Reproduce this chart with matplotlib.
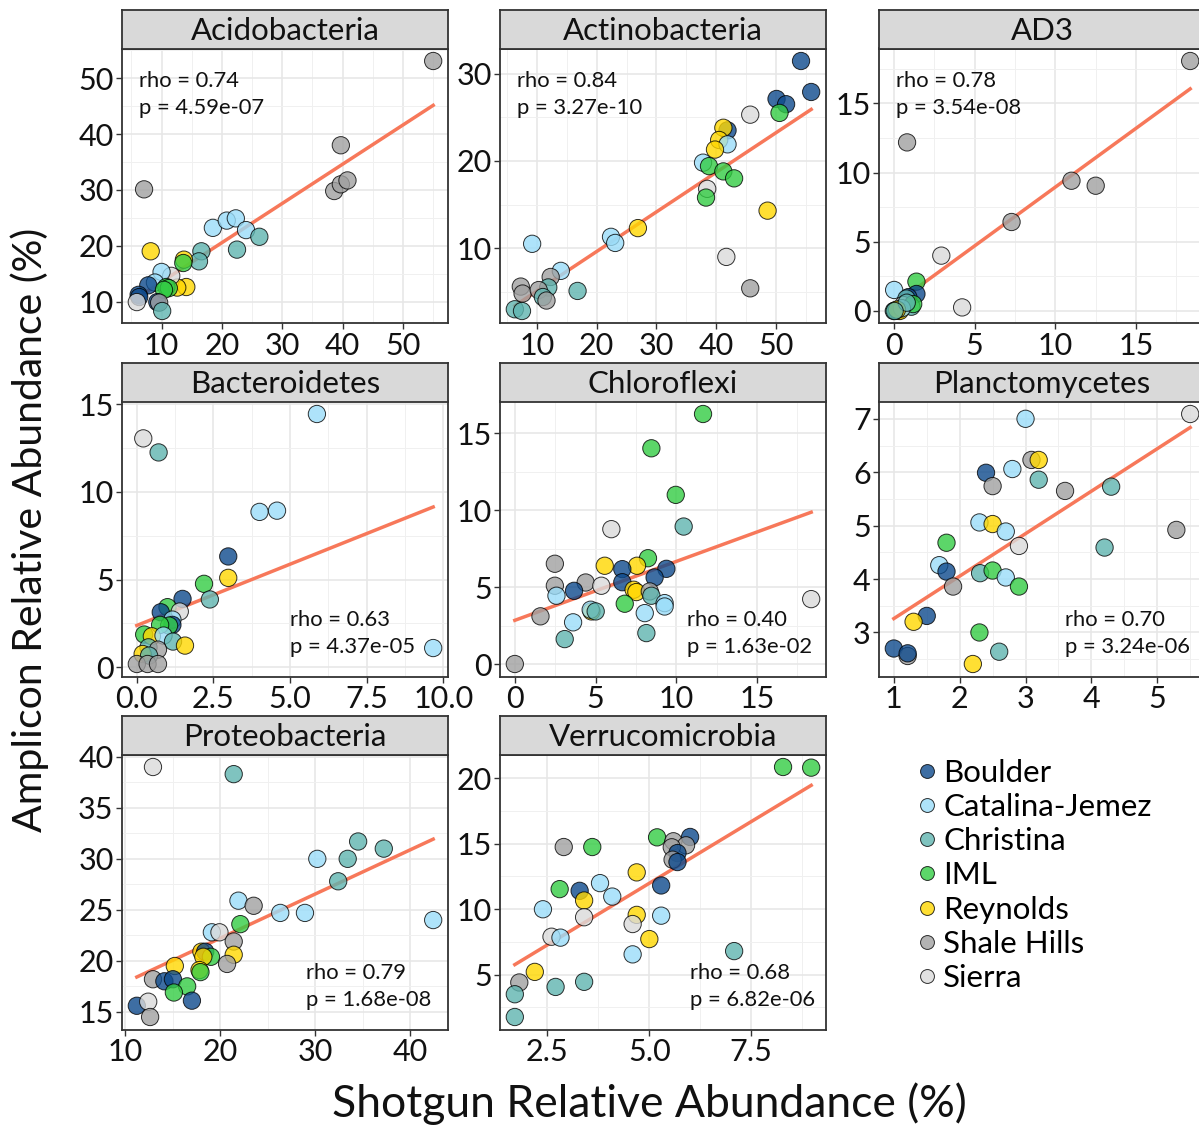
import matplotlib
matplotlib.use("Agg")
import matplotlib.pyplot as plt
from matplotlib.lines import Line2D
from matplotlib.ticker import AutoMinorLocator, FixedLocator
import numpy as np

plt.rcParams["font.family"] = ["Lato", "DejaVu Sans"]

# ---- sites ----
site_names = ["Boulder", "Catalina-Jemez", "Christina", "IML", "Reynolds", "Shale Hills", "Sierra"]
site_codes = ["B", "CJ", "C", "I", "R", "SH", "S"]
site_colors = ["#0E4A8C", "#9ADDF9", "#5FB5B0", "#33CC44", "#FFD700", "#A0A0A0", "#DADADA"]

# ---- Acidobacteria ----
acido_x = [55.0, 39.7, 38.6, 39.7, 40.8, 7.1, 18.5, 20.8, 22.3, 24.0, 26.2, 22.5, 16.6, 16.2, 8.2, 13.7,
           13.6, 14.1, 12.6, 11.6, 10.0, 8.9, 7.8, 10.8, 11.2, 10.4, 6.2, 6.3, 5.9, 9.3, 9.6, 10.1]
acido_y = [53.1, 38.0, 29.8, 31.0, 31.7, 30.1, 23.2, 24.5, 24.9, 22.8, 21.6, 19.3, 19.0, 17.2, 19.0, 17.5,
           16.9, 12.6, 12.5, 14.6, 15.3, 13.4, 12.9, 12.6, 12.4, 12.1, 11.2, 10.8, 9.9, 9.9, 9.8, 8.3]
acido_site = ["SH", "SH", "SH", "SH", "SH", "SH", "CJ", "CJ", "CJ", "CJ", "C", "C", "C", "C", "R", "R",
              "I", "R", "R", "S", "CJ", "CJ", "B", "I", "I", "I", "B", "B", "S", "B", "SH", "C"]
acido_fit = [6.49, 0.703]
acido_stats = ["0.74", "4.59e-07"]
acido_xticks = [10, 20, 30, 40, 50]
acido_yticks = [10, 20, 30, 40, 50]

# ---- Actinobacteria ----
actino_x = [54.2, 55.9, 50.1, 51.7, 50.6, 45.7, 41.9, 41.2, 40.5, 41.9, 39.8, 37.8, 38.8, 41.2, 43.0, 38.5,
            38.3, 48.6, 26.9, 22.4, 23.1, 9.2, 41.7, 45.7, 14.0, 12.3, 11.9, 16.8, 7.3, 7.6, 10.3, 11.0,
            11.6, 6.3, 7.5]
actino_y = [31.45, 27.9, 27.1, 26.5, 25.5, 25.3, 23.5, 23.8, 22.4, 21.9, 21.3, 19.8, 19.4, 18.8, 18.0, 16.8,
            15.8, 14.3, 12.3, 11.3, 10.6, 10.5, 9.0, 5.4, 7.4, 6.7, 5.5, 5.1, 5.6, 4.8, 5.2, 4.4,
            4.0, 3.0, 2.8]
actino_site = ["B", "B", "B", "B", "I", "S", "B", "R", "R", "CJ", "R", "CJ", "I", "I", "I", "S",
               "I", "R", "R", "CJ", "CJ", "CJ", "S", "SH", "CJ", "SH", "C", "C", "SH", "SH", "SH", "C",
               "SH", "C", "C"]
actino_fit = [0.55, 0.4535]
actino_stats = ["0.84", "3.27e-10"]
actino_xticks = [10, 20, 30, 40, 50]
actino_yticks = [10, 20, 30]

# ---- AD3 ----
ad3_x = [18.35, 0.82, 11.0, 12.5, 7.29, 2.94, 4.23, 1.4, 0.02, 1.4, 0.9, 0.78, 0.58, 1.09, 1.2,
         0.0, 0.27, 0.37, 0.1, 0.5, 0.2, 0.8, 0.05]
ad3_y = [18.06, 12.18, 9.41, 9.05, 6.43, 4.0, 0.26, 2.12, 1.52, 1.23, 1.0, 0.9, 0.43, 0.31, 0.5,
         0.0, 0.02, 0.0, 0.05, 0.2, 0.1, 0.6, 0.0]
ad3_site = ["SH", "SH", "SH", "SH", "SH", "S", "S", "I", "CJ", "B", "B", "C", "S", "C", "I",
            "C", "B", "R", "I", "CJ", "R", "C", "C"]
ad3_fit = [0.45, 0.85]
ad3_stats = ["0.78", "3.54e-08"]
ad3_xticks = [0, 5, 10, 15]
ad3_yticks = [0, 5, 10, 15]

# ---- Bacteroidetes ----
bact_x = [5.88, 0.22, 0.72, 4.01, 4.58, 2.99, 2.99, 2.2, 2.39, 1.5, 1.01, 0.79, 1.41, 1.17, 1.17, 1.06,
          0.77, 0.25, 0.5, 0.88, 1.19, 1.58, 0.39, 0.7, 0.2, 0.41, 0.01, 0.36, 0.7, 9.67]
bact_y = [14.44, 13.05, 12.25, 8.86, 8.93, 6.32, 5.10, 4.76, 3.87, 3.9, 3.43, 3.14, 3.18, 2.72, 2.42, 2.38,
          2.42, 1.87, 1.77, 1.81, 1.47, 1.24, 1.14, 1.01, 0.76, 0.67, 0.19, 0.19, 0.19, 1.1]
bact_site = ["CJ", "S", "C", "CJ", "CJ", "B", "R", "I", "C", "B", "I", "B", "S", "CJ", "B", "I",
             "I", "I", "R", "CJ", "C", "R", "C", "SH", "R", "C", "SH", "SH", "SH", "CJ"]
bact_fit = [2.38, 0.699]
bact_stats = ["0.63", "4.37e-05"]
bact_xticks = [0.0, 2.5, 5.0, 7.5, 10.0]
bact_yticks = [0, 5, 10, 15]

# ---- Chloroflexi ----
chloro_x = [11.66, 8.46, 9.97, 10.46, 5.98, 8.25, 2.48, 5.57, 7.57, 9.39, 6.66, 8.66, 6.66, 4.39, 5.36,
            2.48, 3.67, 2.58, 7.36, 7.53, 8.36, 8.46, 9.28, 9.28, 6.81, 4.75, 4.7, 5.01, 8.05, 1.59,
            3.61, 3.09, 8.15, 0.0, 18.36]
chloro_y = [16.26, 14.03, 11.0, 8.94, 8.77, 6.88, 6.52, 6.39, 6.39, 6.19, 6.17, 5.63, 5.32, 5.3, 5.09,
            5.09, 4.76, 4.44, 4.83, 4.68, 4.72, 4.44, 3.96, 3.74, 3.92, 3.42, 3.53, 3.42, 3.31, 3.10,
            2.71, 1.62, 2.01, 0.0, 4.22]
chloro_site = ["I", "I", "I", "C", "S", "I", "SH", "R", "R", "B", "B", "B", "B", "SH", "S",
               "SH", "B", "CJ", "R", "R", "SH", "C", "CJ", "CJ", "I", "R", "CJ", "C", "CJ", "SH",
               "CJ", "C", "C", "SH", "S"]
chloro_fit = [2.84, 0.383]
chloro_stats = ["0.40", "1.63e-02"]
chloro_xticks = [0, 5, 10, 15]
chloro_yticks = [0, 5, 10, 15]

# ---- Planctomycetes ----
planct_x = [5.5, 3.0, 3.09, 3.2, 2.40, 2.8, 3.2, 2.5, 3.6, 4.3, 2.3, 2.5, 2.7, 2.9, 5.29, 4.2,
            1.8, 1.69, 1.8, 1.9, 2.31, 2.5, 2.7, 2.9, 1.5, 1.3, 2.3, 2.6, 2.2, 1.0, 1.21, 1.21]
planct_y = [7.09, 7.0, 6.23, 6.23, 5.99, 6.06, 5.86, 5.74, 5.65, 5.73, 5.06, 5.03, 4.89, 4.62, 4.92, 4.59,
            4.68, 4.26, 4.14, 3.86, 4.11, 4.16, 4.03, 3.86, 3.31, 3.2, 3.0, 2.64, 2.41, 2.7, 2.56, 2.61]
planct_site = ["S", "CJ", "SH", "R", "B", "CJ", "C", "SH", "SH", "C", "CJ", "R", "CJ", "S", "SH", "C",
               "I", "CJ", "B", "SH", "C", "I", "CJ", "I", "B", "R", "I", "C", "R", "B", "SH", "B"]
planct_fit = [2.465, 0.795]
planct_stats = ["0.70", "3.24e-06"]
planct_xticks = [1, 2, 3, 4, 5]
planct_yticks = [3, 4, 5, 6, 7]

# ---- Proteobacteria ----
proteo_x = [12.9, 21.4, 34.5, 37.2, 30.2, 33.4, 32.4, 21.9, 23.5, 26.3, 28.9, 42.4, 22.1, 19.1, 19.9,
            21.4, 18.0, 18.4, 19.0, 18.2, 21.4, 20.7, 15.2, 17.8, 17.9, 12.9, 14.1, 15.0, 16.5, 15.1,
            17.0, 11.2, 12.4, 12.6]
proteo_y = [39.0, 38.3, 31.7, 31.0, 30.0, 30.0, 27.8, 25.9, 25.4, 24.7, 24.7, 24.0, 23.6, 22.8, 22.8,
            21.9, 20.9, 20.9, 20.4, 20.4, 20.6, 19.7, 19.5, 19.1, 18.9, 18.2, 18.0, 18.2, 17.5, 16.9,
            16.1, 15.6, 16.0, 14.5]
proteo_site = ["S", "C", "C", "C", "CJ", "C", "C", "CJ", "SH", "CJ", "CJ", "CJ", "I", "CJ", "S",
               "SH", "R", "B", "I", "R", "R", "SH", "R", "R", "I", "SH", "B", "B", "I", "I",
               "B", "B", "S", "SH"]
proteo_fit = [13.57, 0.433]
proteo_stats = ["0.79", "1.68e-08"]
proteo_xticks = [10, 20, 30, 40]
proteo_yticks = [15, 20, 25, 30, 35, 40]

# ---- Verrucomicrobia ----
verruco_x = [8.28, 8.97, 5.19, 6.0, 5.59, 5.9, 5.55, 5.69, 5.57, 5.69, 2.9, 3.6, 4.69, 3.79, 2.8, 3.29,
             3.4, 4.09, 5.29, 2.39, 3.4, 4.69, 5.29, 4.59, 5.0, 2.6, 2.82, 4.59, 7.08, 2.19, 1.81, 2.7,
             3.4, 1.7, 1.7]
verruco_y = [20.87, 20.82, 15.49, 15.52, 15.19, 14.88, 14.73, 14.29, 13.78, 13.6, 14.75, 14.75, 12.81, 11.99,
             11.53, 11.4, 10.66, 10.96, 11.81, 9.99, 9.38, 9.56, 9.5, 8.86, 7.71, 7.89, 7.82, 6.54, 6.79,
             5.2, 4.39, 4.05, 4.44, 3.49, 1.75]
verruco_site = ["I", "I", "I", "B", "SH", "SH", "SH", "B", "SH", "B", "SH", "I", "R", "CJ", "I", "B",
                "R", "CJ", "B", "CJ", "S", "R", "CJ", "S", "R", "S", "CJ", "CJ", "C", "R", "SH", "C",
                "C", "C", "C"]
verruco_fit = [2.55, 1.886]
verruco_stats = ["0.68", "6.82e-06"]
verruco_xticks = [2.5, 5.0, 7.5]
verruco_yticks = [5, 10, 15, 20]

panels = [
    ("Acidobacteria", acido_x, acido_y, acido_site, acido_fit, acido_stats, acido_xticks, acido_yticks, "%d", "tl"),
    ("Actinobacteria", actino_x, actino_y, actino_site, actino_fit, actino_stats, actino_xticks, actino_yticks, "%d", "tl"),
    ("AD3", ad3_x, ad3_y, ad3_site, ad3_fit, ad3_stats, ad3_xticks, ad3_yticks, "%d", "tl"),
    ("Bacteroidetes", bact_x, bact_y, bact_site, bact_fit, bact_stats, bact_xticks, bact_yticks, "%.1f", "br"),
    ("Chloroflexi", chloro_x, chloro_y, chloro_site, chloro_fit, chloro_stats, chloro_xticks, chloro_yticks, "%d", "br"),
    ("Planctomycetes", planct_x, planct_y, planct_site, planct_fit, planct_stats, planct_xticks, planct_yticks, "%d", "br"),
    ("Proteobacteria", proteo_x, proteo_y, proteo_site, proteo_fit, proteo_stats, proteo_xticks, proteo_yticks, "%d", "br"),
    ("Verrucomicrobia", verruco_x, verruco_y, verruco_site, verruco_fit, verruco_stats, verruco_xticks, verruco_yticks, "%.1f", "br"),
]

# label x-offset (axes fraction) for bottom-right stats
br_text_x = {"Bacteroidetes": 0.515, "Chloroflexi": 0.574, "Planctomycetes": 0.572,
             "Proteobacteria": 0.564, "Verrucomicrobia": 0.583}

W, H = 1199, 1128
fig = plt.figure(figsize=(W / 100, H / 100), dpi=100)

col_left = [122, 500, 879]
row_strip_top = [10, 363, 716]
panel_w, panel_h, strip_h = 326, 275, 38.5

color_of = dict(zip(site_codes, site_colors))
ALPHA = 0.8
LINE_COLOR = "#F7785A"
BORDER = "#333333"
TXT = "#111111"

for i, (name, xs, ys, sites, fit, stats, xt, yt, fmt, pos) in enumerate(panels):
    r, c = divmod(i, 3)
    left = col_left[c]
    top = row_strip_top[r] + strip_h
    ax = fig.add_axes([left / W, 1 - (top + panel_h) / H, panel_w / W, panel_h / H])
    sax = fig.add_axes([left / W, 1 - (row_strip_top[r] + strip_h) / H, panel_w / W, strip_h / H])

    xs = np.asarray(xs)
    ys = np.asarray(ys)
    cols = [color_of[s] for s in sites]
    ax.scatter(xs, ys, s=155, c=cols, alpha=ALPHA, edgecolors="black", linewidths=0.7, zorder=3)

    xr = np.array([xs.min(), xs.max()])
    ax.plot(xr, fit[0] + fit[1] * xr, color=LINE_COLOR, lw=2.5, zorder=2)

    ax.margins(0.05)
    ax.xaxis.set_major_locator(FixedLocator(xt))
    ax.yaxis.set_major_locator(FixedLocator(yt))
    ax.xaxis.set_minor_locator(AutoMinorLocator(2))
    ax.yaxis.set_minor_locator(AutoMinorLocator(2))
    ax.set_xticklabels([fmt % v for v in xt])
    ax.set_yticklabels(["%d" % v for v in yt])
    ax.grid(which="major", color="#E6E6E6", lw=1.1, zorder=0)
    ax.grid(which="minor", color="#F0F0F0", lw=0.7, zorder=0)
    ax.set_axisbelow(True)
    ax.tick_params(which="major", length=4, width=1, color=BORDER, labelsize=22, labelcolor=TXT, pad=2)
    ax.tick_params(which="minor", length=0)
    for sp in ax.spines.values():
        sp.set_color(BORDER)
        sp.set_linewidth(1.3)

    sax.set_facecolor("#D9D9D9")
    sax.set_xticks([])
    sax.set_yticks([])
    for sp in sax.spines.values():
        sp.set_color(BORDER)
        sp.set_linewidth(1.3)
    sax.text(0.5, 0.45, name, ha="center", va="center", fontsize=22.5, color=TXT, transform=sax.transAxes)

    if pos == "tl":
        tx, ty1, ty2 = 0.052, 0.883, 0.785
    else:
        tx, ty1, ty2 = br_text_x[name], 0.207, 0.109
    ax.text(tx, ty1, "rho = " + stats[0], transform=ax.transAxes, fontsize=15.8, va="center", ha="left", color=TXT)
    ax.text(tx, ty2, "p = " + stats[1], transform=ax.transAxes, fontsize=15.8, va="center", ha="left", color=TXT)

fig.text(30 / W, 1 - 530 / H, "Amplicon Relative Abundance (%)", rotation=90, ha="center", va="center",
         fontsize=29.5, color=TXT)
fig.text(649 / W, 1 - 1104 / H, "Shotgun Relative Abundance (%)", ha="center", va="center",
         fontsize=32, color=TXT)

handles = [Line2D([], [], ls="none", marker="o", markersize=10, markerfacecolor=col, alpha=ALPHA,
                  markeredgecolor="black", markeredgewidth=0.7) for col in site_colors]
fig.legend(handles, site_names, loc="upper left", bbox_to_anchor=(902 / W, 1 - 746 / H), frameon=False,
           fontsize=22.5, handlelength=0.8, handletextpad=0.12, labelspacing=0.2, borderaxespad=0)

fig.savefig("out.png", dpi=100)
